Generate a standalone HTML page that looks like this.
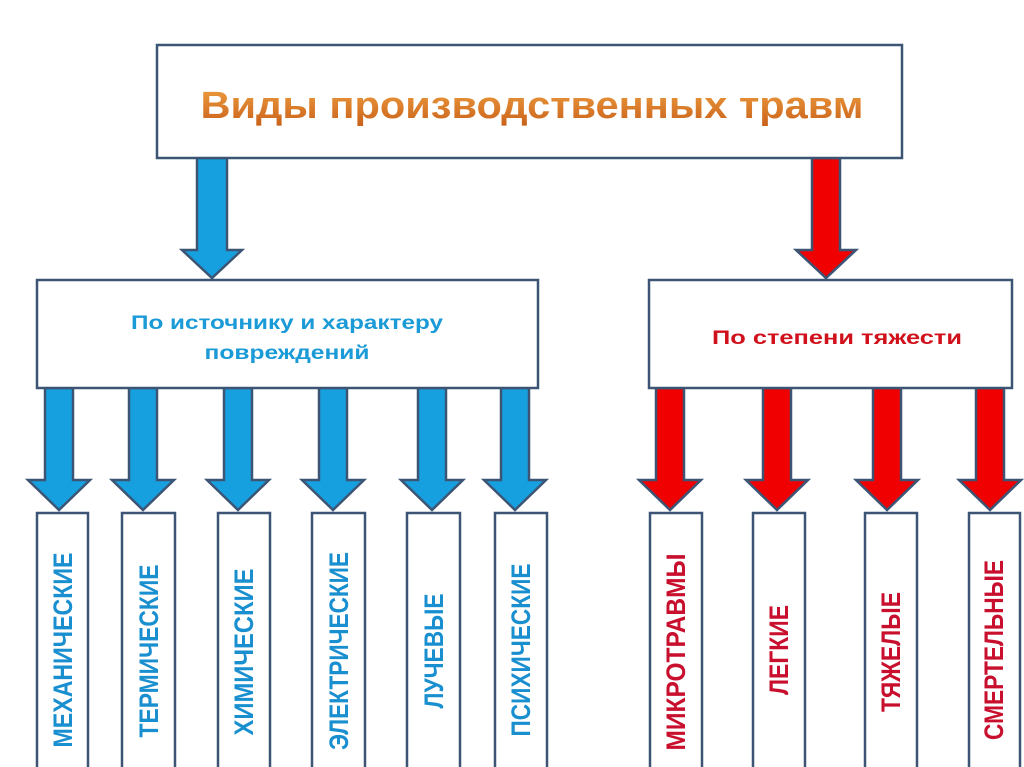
<!DOCTYPE html>
<html><head><meta charset="utf-8"><style>
html,body{margin:0;padding:0;background:#fff;}
svg{display:block;}
</style></head><body>
<svg width="1024" height="767" viewBox="0 0 1024 767" xmlns="http://www.w3.org/2000/svg">
<defs>
<linearGradient id="og" x1="0" y1="0" x2="0" y2="1">
<stop offset="0" stop-color="#f0a040"/><stop offset="1" stop-color="#c8601a"/>
</linearGradient>
</defs>
<g stroke="#3c5575" stroke-width="2.5">
<path d="M197,158 H227 V250 H242 L212,278 L182,250 H197 Z" fill="#17a0e0"/>
<path d="M812,158 H840 V250 H856 L826,278 L796,250 H812 Z" fill="#f00000"/>
</g>
<g stroke="#3c5575" stroke-width="2.5" fill="#17a0e0">
<path d="M45,388 H73 V480 H90 L59,510 L28,480 H45 Z"/>
<path d="M129,388 H157 V480 H174 L143,510 L112,480 H129 Z"/>
<path d="M224,388 H252 V480 H269 L238,510 L207,480 H224 Z"/>
<path d="M319,388 H347 V480 H364 L333,510 L302,480 H319 Z"/>
<path d="M418,388 H446 V480 H463 L432,510 L401,480 H418 Z"/>
<path d="M501,388 H529 V480 H546 L515,510 L484,480 H501 Z"/>
</g>
<g stroke="#3c5575" stroke-width="2.5" fill="#f00000">
<path d="M656,388 H684 V480 H701 L670,510 L639,480 H656 Z"/>
<path d="M763,388 H791 V480 H808 L777,510 L746,480 H763 Z"/>
<path d="M873,388 H901 V480 H918 L887,510 L856,480 H873 Z"/>
<path d="M976,388 H1004 V480 H1021 L990,510 L959,480 H976 Z"/>
</g>
<g fill="#fff" stroke="#3c5575" stroke-width="2.5">
<rect x="157" y="45" width="745" height="113"/>
<rect x="37" y="280" width="501" height="108"/>
<rect x="649" y="280" width="363" height="108"/>
<rect x="37" y="513" width="51" height="270"/>
<rect x="122" y="513" width="53" height="270"/>
<rect x="218" y="513" width="52" height="270"/>
<rect x="312" y="513" width="53" height="270"/>
<rect x="407" y="513" width="53" height="270"/>
<rect x="495" y="513" width="52" height="270"/>
<rect x="650" y="513" width="52" height="270"/>
<rect x="753" y="513" width="52" height="270"/>
<rect x="865" y="513" width="52" height="270"/>
<rect x="969" y="513" width="51" height="270"/>
</g>
<g font-family="Liberation Sans, sans-serif" font-weight="bold">
<text x="532" y="118" font-size="38" fill="url(#og)" text-anchor="middle" textLength="663" lengthAdjust="spacingAndGlyphs">Виды производственных травм</text>
<text x="287" y="329" font-size="19" fill="#1a9ad6" text-anchor="middle" textLength="312" lengthAdjust="spacingAndGlyphs">По источнику и характеру</text>
<text x="287" y="359" font-size="19" fill="#1a9ad6" text-anchor="middle" textLength="165" lengthAdjust="spacingAndGlyphs">повреждений</text>
<text x="837" y="344" font-size="19" fill="#d0101a" text-anchor="middle" textLength="250" lengthAdjust="spacingAndGlyphs">По степени тяжести</text>
</g>
<g font-family="Liberation Sans, sans-serif" font-weight="bold" font-size="27" text-anchor="middle">
<g fill="#1a8fd0">
<text transform="translate(72,650) rotate(-90)" textLength="195" lengthAdjust="spacingAndGlyphs">МЕХАНИЧЕСКИЕ</text>
<text transform="translate(158,651) rotate(-90)" textLength="173" lengthAdjust="spacingAndGlyphs">ТЕРМИЧЕСКИЕ</text>
<text transform="translate(253,652) rotate(-90)" textLength="167" lengthAdjust="spacingAndGlyphs">ХИМИЧЕСКИЕ</text>
<text transform="translate(348,651) rotate(-90)" textLength="198" lengthAdjust="spacingAndGlyphs">ЭЛЕКТРИЧЕСКИЕ</text>
<text transform="translate(443,651) rotate(-90)" textLength="115" lengthAdjust="spacingAndGlyphs">ЛУЧЕВЫЕ</text>
<text transform="translate(530,650) rotate(-90)" textLength="173" lengthAdjust="spacingAndGlyphs">ПСИХИЧЕСКИЕ</text>
</g>
<g fill="#c8102e">
<text transform="translate(685,652) rotate(-90)" textLength="197" lengthAdjust="spacingAndGlyphs">МИКРОТРАВМЫ</text>
<text transform="translate(788,650) rotate(-90)" textLength="90" lengthAdjust="spacingAndGlyphs">ЛЕГКИЕ</text>
<text transform="translate(900,652) rotate(-90)" textLength="120" lengthAdjust="spacingAndGlyphs">ТЯЖЕЛЫЕ</text>
<text transform="translate(1003,650) rotate(-90)" textLength="180" lengthAdjust="spacingAndGlyphs">СМЕРТЕЛЬНЫЕ</text>
</g>
</g>
</svg>
</body></html>
